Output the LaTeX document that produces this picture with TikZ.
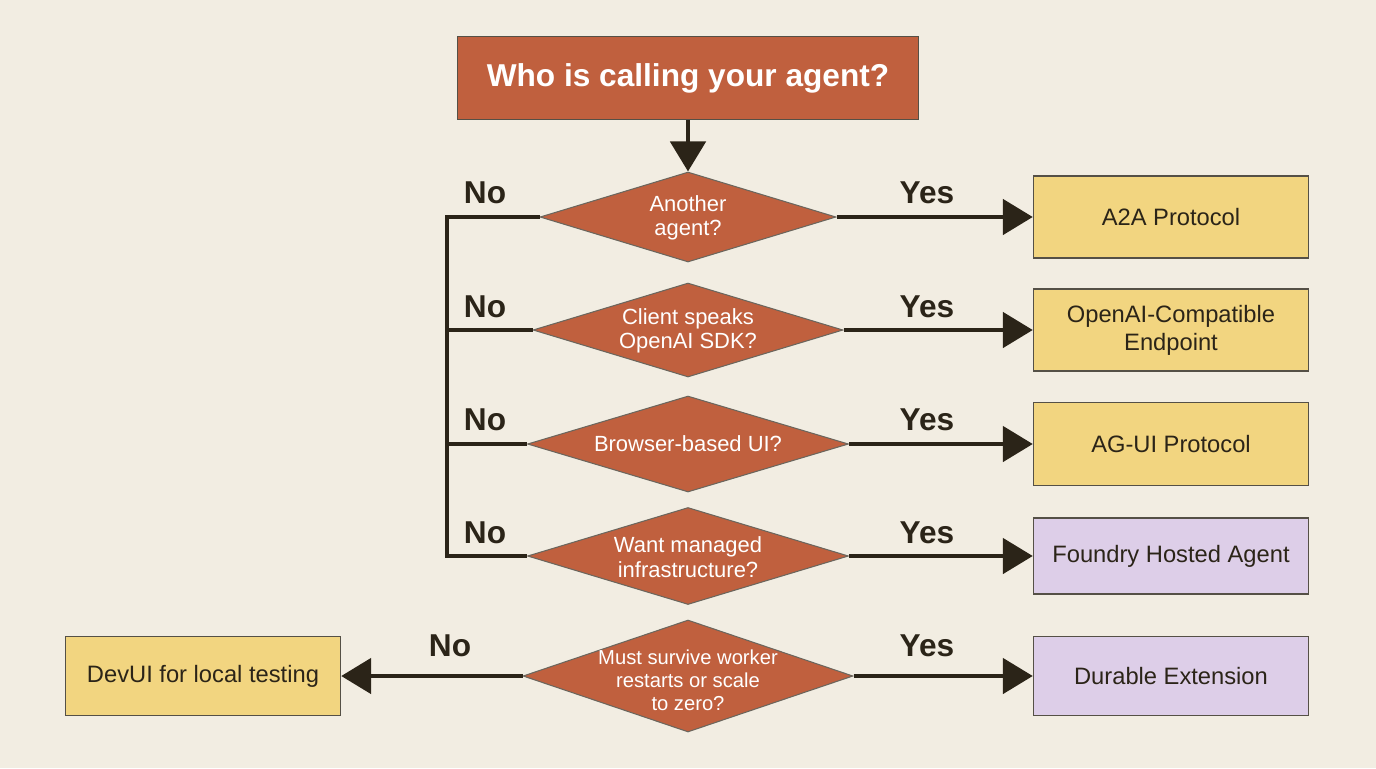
\documentclass[tikz,border=0pt]{standalone}
\usepackage{fontspec}
\setmainfont{Liberation Sans}
\usetikzlibrary{shapes.geometric,arrows.meta}
\definecolor{bg}{HTML}{F2EDE2}
\definecolor{rust}{HTML}{C0603E}
\definecolor{ylw}{HTML}{F2D580}
\definecolor{prp}{HTML}{DDCEE8}
\definecolor{ink}{HTML}{2B2418}
\begin{document}
\begin{tikzpicture}[x=0.02cm,y=-0.02cm,
 dia/.style={diamond,aspect=3.2,fill=rust,draw=ink!70,line width=0.6pt,inner sep=0pt},
 dtx/.style={text=white,font=\fontsize{12.5}{14}\selectfont,align=center},
 box/.style={draw=ink!80,line width=0.8pt,minimum width=5.5cm,minimum height=1.6cm,font=\fontsize{13.5}{16}\selectfont,align=center,text=ink},
 lab/.style={font=\bfseries\fontsize{18}{20}\selectfont,text=ink},
 ln/.style={draw=ink,line width=2.8pt},
 ar/.style={ln,-{Triangle[length=0.6cm,width=0.7cm]}}]
\fill[bg] (0,0) rectangle (1376,768);
\useasboundingbox (0,0) rectangle (1376,768);
\node[draw=ink!80,fill=rust,line width=0.8pt,minimum width=9.22cm,minimum height=1.66cm,text=white,font=\bfseries\fontsize{18}{20}\selectfont] (t) at (688,78) {Who is calling your agent?};
\node[dia,minimum width=5.92cm,minimum height=1.8cm] (d1) at (688,217) {};
\node[dia,minimum width=6.2cm,minimum height=1.88cm] (d2) at (688,330) {};
\node[dia,minimum width=6.42cm,minimum height=1.92cm] (d3) at (688,444) {};
\node[dia,minimum width=6.42cm,minimum height=1.94cm] (d4) at (688,556) {};
\node[dia,minimum width=6.6cm,minimum height=2.24cm] (d5) at (688,676) {};
\node[dtx] (t1) at (688,218) {Another\\agent?};
\node[dtx] (t2) at (688,331) {Client speaks\\OpenAI SDK?};
\node[dtx] (t3) at (688,444) {Browser-based UI?};
\node[dtx] (t4) at (688,557) {Want managed\\infrastructure?};
\node[dtx,font=\fontsize{11.5}{13}\selectfont] (t5) at (688,680) {Must survive worker\\restarts or scale\\to zero?};
\node[box,fill=ylw,minimum height=1.64cm] (b1) at (1171,217) {A2A Protocol};
\node[box,fill=ylw,minimum height=1.64cm] (b2) at (1171,330) {OpenAI-Compatible\\Endpoint};
\node[box,fill=ylw,minimum height=1.66cm] (b3) at (1171,444) {AG-UI Protocol};
\node[box,fill=prp,minimum height=1.52cm] (b4) at (1171,556) {Foundry Hosted Agent};
\node[box,fill=prp,minimum height=1.58cm] (b5) at (1171,676) {Durable Extension};
\node[box,fill=ylw,minimum height=1.58cm] (b6) at (203,676) {DevUI for local testing};
\draw[ar] (t.south) -- (d1.north);
\foreach \i in {1,...,5}{\draw[ar] (d\i.east) -- (b\i.west);}
\draw[ar] (d5.west) -- (b6.east);
\coordinate (c1) at (447,217);
\coordinate (c4) at (447,556);
\draw[ln,line join=miter] (d1.west) -- (c1) -- (c4) -- (d4.west);
\draw[ln] (d2.west) -- (447,330);
\draw[ln] (d3.west) -- (447,444);
\node[lab] (n1) at (485,193) {No};
\node[lab] (n2) at (485,307) {No};
\node[lab] (n3) at (485,420) {No};
\node[lab] (n4) at (485,533) {No};
\node[lab] (n5) at (450,646) {No};
\foreach \y/\n in {193/1,307/2,420/3,533/4,646/5}{\node[lab] (y\n) at (927,\y) {Yes};}
\end{tikzpicture}
\end{document}
